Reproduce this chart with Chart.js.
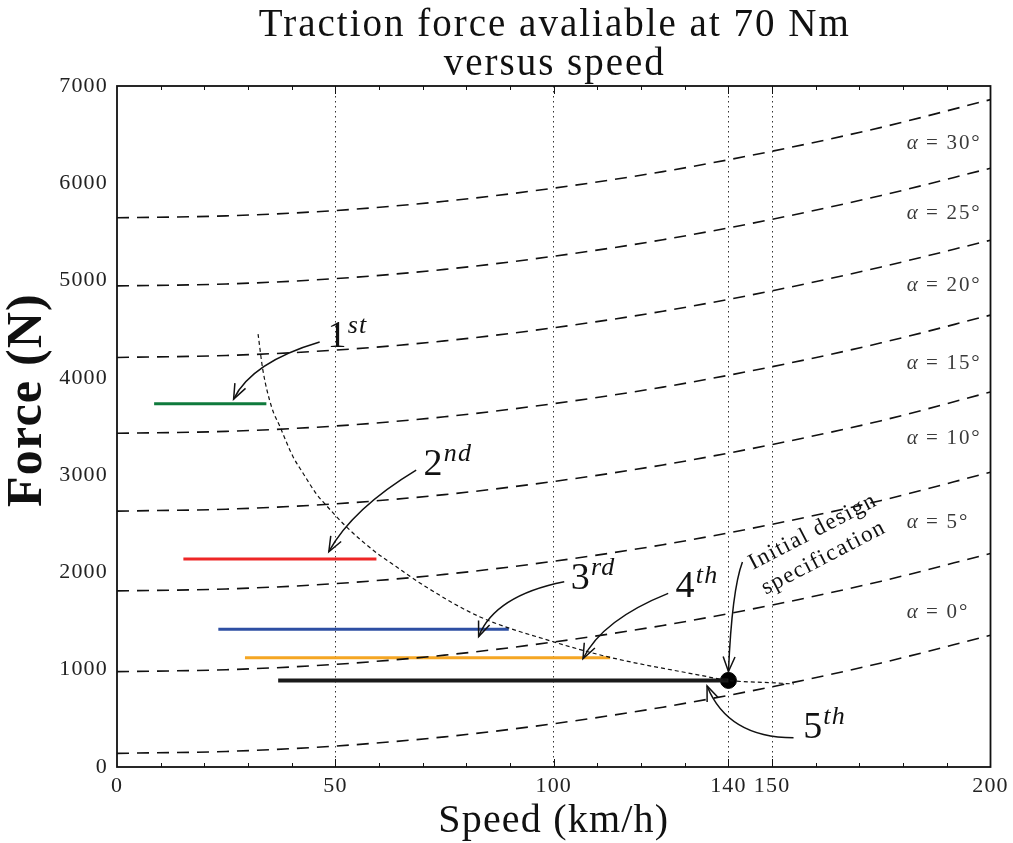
<!DOCTYPE html>
<html>
<head>
<meta charset="utf-8">
<script src="https://cdn.jsdelivr.net/npm/chart.js@4.4.0/dist/chart.umd.min.js"></script>
<style>
  html, body { margin: 0; padding: 0; background: #fff; }
</style>
</head>
<body>
<canvas id="chart" width="1013" height="843"></canvas>
<script>
// Road load curves: force needed (N) at each speed (km/h), one per grade
const speeds = [0, 25, 50, 75, 100, 125, 150, 175, 200];
const force0deg  = [140, 160, 215, 310, 445, 615, 825, 1070, 1355];
const force5deg  = [980, 1000, 1055, 1150, 1285, 1455, 1665, 1910, 2195];
const force10deg = [1810, 1830, 1885, 1980, 2115, 2285, 2495, 2740, 3030];
const force15deg = [2630, 2650, 2705, 2800, 2935, 3105, 3315, 3560, 3855];
const force20deg = [3430, 3450, 3505, 3600, 3735, 3905, 4115, 4360, 4645];
const force25deg = [4210, 4230, 4285, 4380, 4515, 4685, 4895, 5140, 5415];
const force30deg = [4945, 4965, 5020, 5115, 5250, 5420, 5630, 5875, 6155];
const force35deg = [5645, 5665, 5720, 5815, 5950, 6120, 6330, 6575, 6860];
const slopeForces = [force0deg, force5deg, force10deg, force15deg, force20deg, force25deg, force30deg, force35deg];
const slopeAngles = [0, 5, 10, 15, 20, 25, 30];

// Traction available per gear (speed range, force)
const gearNames  = ['1', '2', '3', '4', '5'];
const gearSuffix = ['st', 'nd', 'rd', 'th', 'th'];
const gearFrom   = [8.5, 15.2, 23.2, 29.3, 36.9];
const gearTo     = [34.2, 59.4, 89.7, 112.9, 140];
const gearForce  = [3735, 2138, 1415, 1123, 890];

// Envelope of traction at 70 Nm
const envSpeed = [32.3, 33.4, 35.4, 37.3, 40.3, 42.6, 45.6, 47.5, 52.5, 58.6, 63.9, 70.8, 83, 99.7, 112.9, 133.3, 140, 150, 155];
const envForce = [4450, 4080, 3700, 3500, 3190, 3020, 2810, 2710, 2470, 2230, 2060, 1850, 1545, 1290, 1127, 945, 890, 866, 853];

// Initial design point
const designSpeed = [140];
const designForce = [890];

const xTicks = [0, 50, 100, 140, 150, 200];
const xMinorTicks = [10, 20, 30, 40, 60, 70, 80, 90, 110, 120, 130, 160, 170, 180, 190];
const yTicks = [0, 1000, 2000, 3000, 4000, 5000, 6000, 7000];

const titleLines = ['Traction force avaliable at 70 Nm', 'versus speed'];

// styling
const SERIF = "'Liberation Serif', 'DejaVu Serif', serif";
const SPACING = '1.2px'; // widen Times a little towards the Computer Modern look
const gearColors = ['#0f7a3c', '#ee2626', '#2e4fa3', '#f5a623', '#1a1a1a'];
const gearWidths = [3, 3, 3, 3, 4];

// where the text labels and arrows go (data units)
const gearNotes = [
    { at: [48.2, 4320], arrow: [[46.4, 4368], [30.9, 4162], [26.7, 3782]] },
    { at: [70.2, 3005], arrow: [[68.5, 3051], [53.9, 2655], [48.5, 2213]] },
    { at: [103.9, 1829], arrow: [[102.4, 1904], [86.5, 1762], [82.8, 1341]] },
    { at: [127.9, 1744], arrow: [[126.2, 1785], [111.1, 1513], [106.7, 1113]] },
    { at: [157.1, 295], arrow: [[154.9, 301], [139.9, 301], [135.1, 833]] }
];
const designNote = { at: [145.6, 2025], angle: -27.5, arrow: [[143.2, 2107], [140.8, 1819], [140.0, 981]] };
const slopeLabelX = 180.8;
const slopeLabelY = [1593, 2518, 3381, 4152, 4954, 5694, 6413];

function drawArrow(ctx, pts) {
    const [a, c, b] = pts;
    ctx.beginPath();
    ctx.moveTo(a[0], a[1]);
    ctx.quadraticCurveTo(c[0], c[1], b[0], b[1]);
    ctx.stroke();
    const ang = Math.atan2(b[1] - c[1], b[0] - c[0]);
    const len = 16, spread = 0.38;
    ctx.beginPath();
    ctx.moveTo(b[0] - len * Math.cos(ang - spread), b[1] - len * Math.sin(ang - spread));
    ctx.lineTo(b[0], b[1]);
    ctx.lineTo(b[0] - len * Math.cos(ang + spread), b[1] - len * Math.sin(ang + spread));
    ctx.stroke();
}

const annotate = {
    id: 'annotate',
    beforeDraw(chart) {
        chart.ctx.letterSpacing = SPACING;
    },
    afterDatasetsDraw(chart) {
        const { ctx, scales: { x, y } } = chart;
        const toPx = p => [x.getPixelForValue(p[0]), y.getPixelForValue(p[1])];
        ctx.save();
        ctx.letterSpacing = SPACING;
        ctx.strokeStyle = '#111';
        ctx.fillStyle = '#111';
        ctx.lineWidth = 1.5;

        // gear labels with ordinal suffix
        gearNotes.forEach((n, i) => {
            drawArrow(ctx, n.arrow.map(toPx));
            const [tx, ty] = toPx(n.at);
            ctx.textBaseline = 'alphabetic';
            ctx.textAlign = 'left';
            ctx.font = '38px ' + SERIF;
            ctx.fillText(gearNames[i], tx, ty);
            const w = ctx.measureText(gearNames[i]).width;
            ctx.font = 'italic 26px ' + SERIF;
            ctx.fillText(gearSuffix[i], tx + w, ty - 14);
        });

        // design point callout
        drawArrow(ctx, designNote.arrow.map(toPx));
        const [dx, dy] = toPx(designNote.at);
        ctx.save();
        ctx.translate(dx, dy);
        ctx.rotate(designNote.angle * Math.PI / 180);
        ctx.font = '23px ' + SERIF;
        ctx.letterSpacing = '1.5px';
        ctx.textAlign = 'left';
        ctx.fillText('Initial design', 0, 0);
        ctx.fillText('specification', 0, 28);
        ctx.restore();

        // grade labels
        ctx.fillStyle = '#3a3a3a';
        slopeAngles.forEach((a, i) => {
            const [lx, ly] = toPx([slopeLabelX, slopeLabelY[i]]);
            ctx.textBaseline = 'middle';
            ctx.font = 'italic 21px ' + SERIF;
            ctx.fillText('\u03b1', lx, ly);
            const w = ctx.measureText('\u03b1').width;
            ctx.font = '21px ' + SERIF;
            ctx.letterSpacing = '1.8px';
            ctx.fillText(' = ' + a + '\u00b0', lx + w, ly);
            ctx.letterSpacing = SPACING;
        });
        ctx.restore();
    },
    afterDraw(chart) {
        const { ctx, chartArea: a, scales: { x } } = chart;
        ctx.save();
        // frame
        ctx.strokeStyle = '#111';
        ctx.lineWidth = 1.8;
        ctx.strokeRect(a.left, a.top, a.right - a.left, a.bottom - a.top);
        // inward ticks on top and bottom
        ctx.lineWidth = 1;
        const tick = (v, len) => {
            const px = Math.round(x.getPixelForValue(v)) + 0.5;
            ctx.beginPath();
            ctx.moveTo(px, a.bottom); ctx.lineTo(px, a.bottom - len);
            ctx.moveTo(px, a.top); ctx.lineTo(px, a.top + len);
            ctx.stroke();
        };
        xMinorTicks.forEach(v => tick(v, 4));
        xTicks.slice(1, -1).forEach(v => tick(v, 8));

        // title, centred over the plot area
        ctx.fillStyle = '#111';
        ctx.textAlign = 'center';
        ctx.textBaseline = 'alphabetic';
        ctx.font = '39px ' + SERIF;
        ctx.letterSpacing = '2px';
        const cx = (a.left + a.right) / 2 + 1;
        ctx.fillText(titleLines[0], cx, 36);
        ctx.fillText(titleLines[1], cx, 75);

        // y axis title
        ctx.letterSpacing = SPACING;
        ctx.translate(28, 400);
        ctx.rotate(-Math.PI / 2);
        ctx.font = 'bold 50px ' + SERIF;
        ctx.textBaseline = 'middle';
        ctx.fillText('Force (N)', 0, 0);
        ctx.restore();
    }
};

const datasets = [];
slopeForces.forEach(f => {
    datasets.push({
        data: speeds.map((s, i) => ({ x: s, y: f[i] })),
        borderColor: '#111',
        borderWidth: 1.6,
        borderDash: [12, 8],
        pointRadius: 0,
        cubicInterpolationMode: 'monotone'
    });
});
datasets.push({
    data: envSpeed.map((s, i) => ({ x: s, y: envForce[i] })),
    borderColor: '#111',
    borderWidth: 1.2,
    borderDash: [4, 3],
    pointRadius: 0,
    cubicInterpolationMode: 'monotone'
});
gearNames.forEach((g, i) => {
    datasets.push({
        data: [{ x: gearFrom[i], y: gearForce[i] }, { x: gearTo[i], y: gearForce[i] }],
        borderColor: gearColors[i],
        borderWidth: gearWidths[i],
        borderCapStyle: 'butt',
        pointRadius: 0
    });
});
datasets.push({
    data: designSpeed.map((s, i) => ({ x: s, y: designForce[i] })),
    showLine: false,
    pointRadius: 8,
    pointBackgroundColor: '#000',
    pointBorderColor: '#000'
});

new Chart(document.getElementById('chart'), {
    type: 'line',
    data: { datasets },
    options: {
        responsive: false,
        animation: false,
        layout: { padding: { left: 0, right: 21, top: 86, bottom: 0 } },
        plugins: {
            legend: { display: false },
            tooltip: { enabled: false },
            title: { display: false }
        },
        scales: {
            x: {
                type: 'linear',
                min: 0,
                max: 200,
                afterBuildTicks: s => { s.ticks = xTicks.map(v => ({ value: v })); },
                afterFit: s => { s.height = 76; },
                grid: {
                    drawTicks: false,
                    color: c => (c.tick && (c.tick.value === 0 || c.tick.value === 200)) ? 'rgba(0,0,0,0)' : '#333',
                    lineWidth: 1
                },
                border: { display: false, dash: [1.5, 3.5] },
                ticks: { color: '#222', font: { family: SERIF, size: 22 }, padding: 6, maxRotation: 0, autoSkip: false, callback: v => String(v) },
                title: { display: true, text: 'Speed (km/h)', color: '#111', font: { family: SERIF, size: 40, lineHeight: 1.1 }, padding: 0 }
            },
            y: {
                min: 0,
                max: 7000,
                afterBuildTicks: s => { s.ticks = yTicks.map(v => ({ value: v })); },
                afterFit: s => { s.width = 117; },
                grid: { display: false, drawTicks: false },
                border: { display: false },
                ticks: { color: '#222', font: { family: SERIF, size: 22 }, padding: 9, callback: v => String(v) }
            }
        }
    },
    plugins: [annotate]
});
</script>
</body>
</html>
